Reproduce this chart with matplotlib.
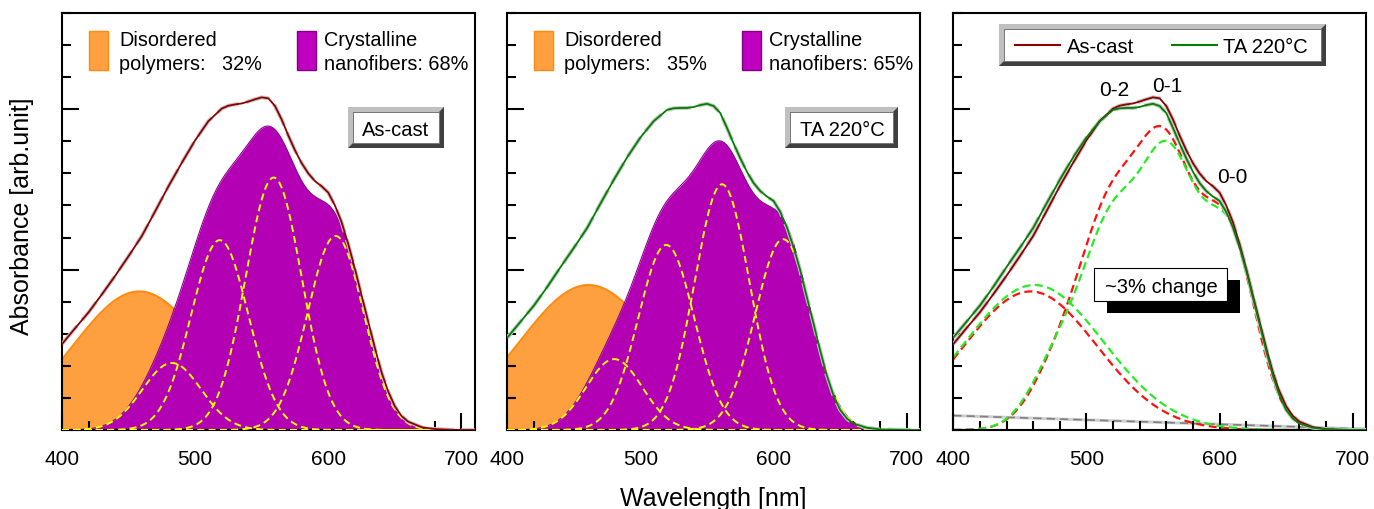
import numpy as np
import matplotlib
matplotlib.use('Agg')
import matplotlib.pyplot as plt
from matplotlib.patches import Polygon, Rectangle
from matplotlib.lines import Line2D
from matplotlib.ticker import MultipleLocator, NullFormatter

plt.rcParams['font.family'] = ['Liberation Sans', 'DejaVu Sans']

# ---------------- data ----------------
wl = [400, 410, 420, 430, 440, 450, 460, 470, 480, 490, 500, 510, 520, 525, 530,
      535, 540, 545, 550, 555, 560, 565, 570, 575, 580, 585, 590, 595, 600, 605,
      610, 615, 620, 625, 630, 635, 640, 645, 650, 655, 660, 670, 680, 690, 700, 710]

abs_ascast = [0.268, 0.318, 0.367, 0.423, 0.481, 0.542, 0.605, 0.682, 0.760, 0.833,
              0.903, 0.963, 1.002, 1.011, 1.015, 1.018, 1.024, 1.031, 1.037, 1.034,
              1.010, 0.968, 0.918, 0.872, 0.832, 0.800, 0.776, 0.760, 0.740, 0.700,
              0.648, 0.580, 0.503, 0.420, 0.338, 0.256, 0.180, 0.120, 0.074, 0.044,
              0.026, 0.009, 0.003, 0.001, 0.000, 0.000]

abs_ta = [0.288, 0.338, 0.388, 0.446, 0.508, 0.568, 0.630, 0.706, 0.780, 0.850,
          0.912, 0.963, 0.998, 1.003, 1.004, 1.004, 1.007, 1.013, 1.017, 1.010,
          0.988, 0.942, 0.893, 0.847, 0.805, 0.770, 0.745, 0.728, 0.714, 0.680,
          0.632, 0.570, 0.498, 0.414, 0.332, 0.248, 0.170, 0.108, 0.063, 0.036,
          0.020, 0.007, 0.002, 0.001, 0.000, 0.000]

# Gaussian fit components: peak position [nm], peak height, width (sigma) [nm]
cryst_center_ascast = [482.5, 518.5, 559.0, 605.5]
cryst_height_ascast = [0.209, 0.592, 0.787, 0.605]
cryst_sigma_ascast = [22.0, 21.5, 21.0, 21.0]

cryst_center_ta = [480.3, 519.4, 561.3, 607.2]
cryst_height_ta = [0.221, 0.577, 0.766, 0.595]
cryst_sigma_ta = [21.0, 21.0, 20.5, 21.0]

dis_center = [458.0, 461.0]     # as-cast, TA 220C
dis_height = [0.432, 0.452]
dis_sigma = [50.0, 52.0]

baseline_wl = [400, 700]
baseline_val = [0.045, 0.004]

dis_frac = ['32%', '35%']
cry_frac = ['68%', '65%']
sample_names = ['As-cast', 'TA 220\u00b0C']
xticks = [400, 500, 600, 700]

# ---------------- helpers ----------------
W, H = 1374, 510
lam = np.linspace(400, 710, 621)


def gauss(c, h, s):
    return h * np.exp(-(lam - c) ** 2 / (2 * s ** 2))


def fx(px):
    return px / W


def fy(py):
    return 1 - py / H


fig = plt.figure(figsize=(W / 100, H / 100), dpi=100)


def bevel(x0, y0, x1, y1, b=5):
    outer = Polygon([(fx(x0), fy(y0)), (fx(x1), fy(y0)), (fx(x1), fy(y1)), (fx(x0), fy(y1))],
                    closed=True, transform=fig.transFigure, facecolor='#404040',
                    edgecolor='none', zorder=10)
    light = Polygon([(fx(x0), fy(y1)), (fx(x0), fy(y0)), (fx(x1), fy(y0)),
                     (fx(x1 - b), fy(y0 + b)), (fx(x0 + b), fy(y0 + b)), (fx(x0 + b), fy(y1 - b))],
                    closed=True, transform=fig.transFigure, facecolor='#c0c0c0',
                    edgecolor='none', zorder=11)
    inner = Rectangle((fx(x0 + b), fy(y1 - b)), (x1 - x0 - 2 * b) / W, (y1 - y0 - 2 * b) / H,
                      transform=fig.transFigure, facecolor='white', edgecolor='#707070',
                      lw=0.6, zorder=12)
    for p in (outer, light, inner):
        fig.add_artist(p)


def ftext(x, y, s, size=14.3, ha='center', va='baseline'):
    fig.text(fx(x), fy(y), s, fontsize=size, ha=ha, va=va, zorder=20)


def style_axes(ax):
    ax.set_xlim(400, 710)
    ax.set_ylim(0, 1.3)
    ax.set_xticks(xticks)
    ax.xaxis.set_minor_locator(MultipleLocator(20))
    ax.yaxis.set_major_locator(MultipleLocator(0.5))
    ax.yaxis.set_minor_locator(MultipleLocator(0.1))
    ax.yaxis.set_major_formatter(NullFormatter())
    ax.tick_params(which='both', direction='in', top=False, right=False, width=1.5)
    ax.tick_params(which='major', length=12)
    ax.tick_params(which='minor', length=6.3)
    ax.tick_params(axis='x', labelsize=15, pad=14)
    for sp in ax.spines.values():
        sp.set_linewidth(1.5)


panel_left = [62, 507.3, 953.3]
pw, ph = 412.7, 417
axes = [fig.add_axes([fx(l), fy(431), pw / W, ph / H]) for l in panel_left]

base = np.interp(lam, baseline_wl, baseline_val)
params = [
    (cryst_center_ascast, cryst_height_ascast, cryst_sigma_ascast),
    (cryst_center_ta, cryst_height_ta, cryst_sigma_ta),
]
measured = [abs_ascast, abs_ta]
line_cols = ['#8b0000', '#008000']
dash_cols = ['#ff1010', '#22ee22']

comps_all, cryst_all, dis_all = [], [], []
for i in range(2):
    c, h, s = params[i]
    comps = [gauss(c[k], h[k], s[k]) for k in range(len(c))]
    comps_all.append(comps)
    cryst_all.append(np.sum(comps, axis=0))
    dis_all.append(gauss(dis_center[i], dis_height[i], dis_sigma[i]))

# ---------------- panels 1 and 2 ----------------
for i in range(2):
    ax = axes[i]
    style_axes(ax)
    ax.fill_between(lam, 0, dis_all[i], color='#ffa040', lw=0, zorder=1)
    ax.plot(lam, dis_all[i], color='#ff8a10', lw=1.5, zorder=1.5)
    ax.fill_between(lam, 0, cryst_all[i], color='#b400b4', lw=0, zorder=2)
    ax.plot(lam, cryst_all[i], color='#8a0090', lw=0.8, zorder=2.5)
    for comp in comps_all[i]:
        ax.plot(lam, comp, color='#ffff00', lw=1.4, dashes=(3.6, 2.2), zorder=3)
    ax.plot(wl, measured[i], color='#c4c4c4', lw=2.8, dashes=(6, 2), zorder=4)
    ax.plot(wl, measured[i], color=line_cols[i], lw=1.3, zorder=5)

    # legend squares and texts
    ax.add_patch(Rectangle((27 / pw, (431 - 71) / ph), 19 / pw, 39 / ph,
                           transform=ax.transAxes, facecolor='#ffa040',
                           edgecolor='#ff8a10', lw=1.0, zorder=6))
    ax.add_patch(Rectangle((235 / pw, (431 - 71) / ph), 19 / pw, 39 / ph,
                           transform=ax.transAxes, facecolor='#c000c0',
                           edgecolor='#800080', lw=1.0, zorder=6))
    ax.text(57 / pw, (431 - 46) / ph, 'Disordered', transform=ax.transAxes,
            fontsize=14.3, va='baseline', ha='left')
    ax.text(57 / pw, (431 - 70) / ph, 'polymers:   ' + dis_frac[i], transform=ax.transAxes,
            fontsize=14.3, va='baseline', ha='left')
    ax.text(262 / pw, (431 - 46) / ph, 'Crystalline', transform=ax.transAxes,
            fontsize=14.3, va='baseline', ha='left')
    ax.text(262 / pw, (431 - 70) / ph, 'nanofibers: ' + cry_frac[i], transform=ax.transAxes,
            fontsize=14.3, va='baseline', ha='left')

# sample boxes
bevel(348, 108, 444, 149)
ftext(396, 136, sample_names[0], size=14.5)
bevel(785, 108, 898, 149)
ftext(842, 136, sample_names[1], size=14.5)

# ---------------- panel 3 ----------------
ax = axes[2]
style_axes(ax)
ax.plot(lam, base, color='#d0d0d0', lw=2.2, zorder=1)
ax.plot(lam, base, color='#808080', lw=1.2, dashes=(5, 3), zorder=1.5)
for i in range(2):
    ax.plot(lam, dis_all[i], color=dash_cols[i], lw=1.6, dashes=(3.6, 2.0), zorder=2 + i * 0.1)
    ax.plot(lam, cryst_all[i], color=dash_cols[i], lw=1.6, dashes=(3.6, 2.0), zorder=2 + i * 0.1)
for i in range(2):
    ax.plot(wl, measured[i], color='#c4c4c4', lw=2.8, dashes=(6, 2), zorder=4)
    ax.plot(wl, measured[i], color=line_cols[i], lw=1.3, zorder=5)

# legend of panel 3
bevel(999, 25, 1326, 67)
fig.add_artist(Line2D([fx(1015), fx(1060)], [fy(46), fy(46)], color=line_cols[0], lw=1.5,
                      transform=fig.transFigure, zorder=20))
fig.add_artist(Line2D([fx(1172), fx(1217)], [fy(46), fy(46)], color=line_cols[1], lw=1.5,
                      transform=fig.transFigure, zorder=20))
ftext(1067, 53, sample_names[0], ha='left', size=14.5)
ftext(1223, 53, sample_names[1], ha='left', size=14.5)

# vibronic labels
ftext(1114, 96.5, '0-2', size=15)
ftext(1167, 91.5, '0-1', size=15)
ftext(1232, 183, '0-0', size=15)

# ~3% change box
fig.add_artist(Rectangle((fx(1107), fy(314)), 133 / W, 33 / H, transform=fig.transFigure,
                         facecolor='black', edgecolor='none', zorder=10))
fig.add_artist(Rectangle((fx(1094), fy(302)), 133 / W, 33 / H, transform=fig.transFigure,
                         facecolor='white', edgecolor='black', lw=0.8, zorder=11))
ftext(1161, 293, '~3% change', size=14.5)

# axis labels
fig.text(fx(22.5), fy(216), 'Absorbance [arb.unit]', rotation=90, fontsize=18,
         ha='center', va='center')
fig.text(fx(713.6), fy(506.5), 'Wavelength [nm]', fontsize=18, ha='center', va='baseline')

fig.savefig('out.png', dpi=100)
